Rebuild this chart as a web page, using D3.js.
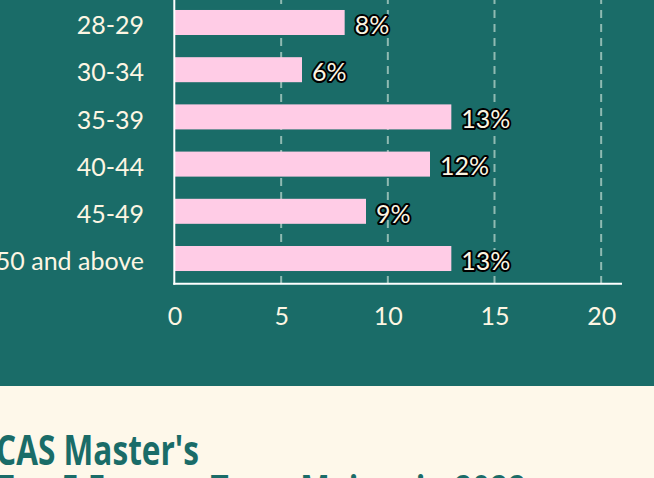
<!DOCTYPE html>
<html>
<head>
<meta charset="utf-8">
<script src="https://cdn.jsdelivr.net/npm/d3@7"></script>
<style>
  body { margin: 0; background: #fef8ea; }
  svg { display: block; }
</style>
</head>
<body>
<svg width="654" height="478"></svg>
<script>
var ageGroups = ["28-29", "30-34", "35-39", "40-44", "45-49", "50 and above"];
var percents = [8, 6, 13, 12, 9, 13];
var xTicks = [0, 5, 10, 15, 20];
var titleLines = ["CAS Master's", "Top 5 Former Term Majors in 2022"];

var data = ageGroups.map(function(g, i) { return {group: g, value: percents[i]}; });

var svg = d3.select("svg"),
    teal = "#1a6c68",
    pink = "#ffcce6",
    cream = "#fdf6e3";

// panel backgrounds
svg.append("rect").attr("width", 654).attr("height", 386).attr("fill", teal);
svg.append("rect").attr("y", 386).attr("width", 654).attr("height", 92).attr("fill", "#fef8ea");

var x = d3.scaleLinear().domain([0, 21]).range([174, 622]),
    y = d3.scaleBand().domain(ageGroups).range([-3, 284])
          .paddingInner(0.47).paddingOuter(0.275);

// dashed gridlines
var grid = svg.append("g")
    .attr("transform", "translate(0,284)")
    .call(d3.axisBottom(x).tickValues(xTicks.slice(1)).tickSize(-290).tickFormat(""));
grid.select(".domain").remove();
grid.selectAll("line")
    .attr("stroke", "#8fbab2")
    .attr("stroke-width", 2)
    .attr("stroke-dasharray", "8,6");

// bars
svg.selectAll("rect.bar")
    .data(data)
  .enter().append("rect")
    .attr("class", "bar")
    .attr("x", x(0))
    .attr("y", function(d) { return y(d.group); })
    .attr("width", function(d) { return x(d.value) - x(0); })
    .attr("height", y.bandwidth())
    .attr("fill", pink);

// axis lines
svg.append("line")
    .attr("x1", x(0) + 0.3).attr("x2", x(0) + 0.3)
    .attr("y1", -3).attr("y2", 284.7)
    .attr("stroke", "#fff").attr("stroke-width", 2);
svg.append("line")
    .attr("x1", x(0) - 0.7).attr("x2", x.range()[1])
    .attr("y1", 283.7).attr("y2", 283.7)
    .attr("stroke", "#fff").attr("stroke-width", 2);

// y labels
svg.selectAll("text.ylab")
    .data(data)
  .enter().append("text")
    .attr("class", "ylab")
    .attr("x", 144)
    .attr("y", function(d) { return y(d.group) + y.bandwidth() / 2; })
    .attr("dy", "0.47em")
    .attr("text-anchor", "end")
    .attr("fill", cream)
    .style("font-family", "Lato, sans-serif")
    .style("font-size", "25px")
    .text(function(d) { return d.group; });

// x tick labels
svg.selectAll("text.xlab")
    .data(xTicks)
  .enter().append("text")
    .attr("class", "xlab")
    .attr("x", function(d) { return x(d) + 1; })
    .attr("y", 325)
    .attr("text-anchor", "middle")
    .attr("fill", cream)
    .style("font-family", "Lato, sans-serif")
    .style("font-size", "25px")
    .text(function(d) { return d; });

// value labels
svg.selectAll("text.val")
    .data(data)
  .enter().append("text")
    .attr("class", "val")
    .attr("x", function(d) { return x(d.value) + 10; })
    .attr("y", function(d) { return y(d.group) + y.bandwidth() / 2; })
    .attr("dy", "0.45em")
    .attr("fill", cream)
    .attr("stroke", "#000")
    .attr("stroke-width", 4)
    .attr("stroke-linejoin", "round")
    .attr("paint-order", "stroke")
    .style("font-family", "Lato, sans-serif")
    .style("font-size", "25px")
    .text(function(d) { return d.value + "%"; });

// title (cut off by the window)
svg.selectAll("text.title")
    .data(titleLines)
  .enter().append("text")
    .attr("class", "title")
    .attr("x", -4)
    .attr("y", function(d, i) { return 465 + i * 40; })
    .attr("fill", teal)
    .attr("textLength", function(d, i) { return i === 0 ? 203 : 530; })
    .attr("lengthAdjust", "spacingAndGlyphs")
    .style("font-family", "'Open Sans', sans-serif")
    .style("font-weight", 700)
    .style("font-size", "42px")
    .text(function(d) { return d; });
</script>
</body>
</html>
